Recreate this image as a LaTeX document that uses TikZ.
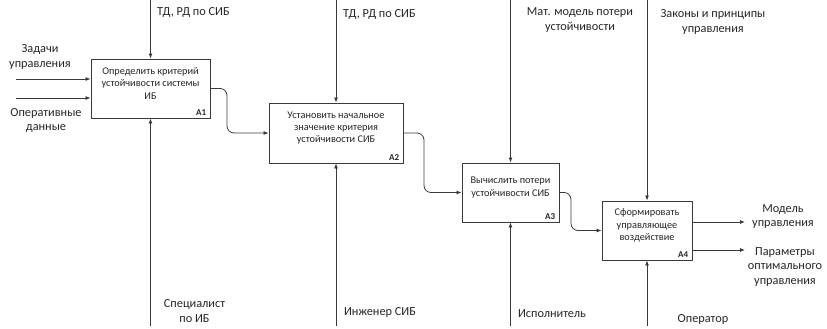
\documentclass[tikz,border=0pt]{standalone}
\usepackage{fontspec}
\setmainfont{Carlito}
\usetikzlibrary{arrows.meta}
\definecolor{ink}{HTML}{3A3A3A}
\definecolor{txt}{HTML}{262626}
\tikzset{
  func/.style={draw=ink, line width=0.9pt, fill=white, inner sep=0pt},
  ftext/.style={align=center, text=txt, font=\fontsize{10.3}{12.2}\selectfont, inner sep=0pt},
  fnum/.style={text=txt, font=\fontsize{9}{10}\selectfont, inner sep=0pt, anchor=south east},
  lbl/.style={align=center, text=txt, font=\fontsize{12.3}{14.8}\selectfont, inner sep=0pt},
  arr/.style={draw=ink, line width=0.8pt, -{Latex[length=5pt,width=4pt]}},
  flow/.style={arr, rounded corners=7pt}
}
\begin{document}
\begin{tikzpicture}[x=1pt,y=-1pt]
\useasboundingbox (0,0) rectangle (827,329);

% function boxes
\node[func, minimum width=119pt, minimum height=59pt] (A1) at (150.5,88.5) {};
\node[func, minimum width=134pt, minimum height=60pt] (A2) at (336,133) {};
\node[func, minimum width=97pt,  minimum height=59pt] (A3) at (510.5,192.5) {};
\node[func, minimum width=90pt,  minimum height=59pt] (A4) at (647,230.5) {};

\node[ftext] (A1t) at ([yshift=5pt]A1.center) {Определить критерий\\устойчивости системы\\ИБ};
\node[ftext] (A2t) at ([yshift=5pt]A2.center) {Установить начальное\\значение критерия\\устойчивости СИБ};
\node[ftext] (A3t) at ([yshift=5pt]A3.center) {Вычислить потери\\устойчивости СИБ};
\node[ftext] (A4t) at ([yshift=5pt]A4.center) {Сформировать\\управляющее\\воздействие};

\node[fnum] (A1n) at ([xshift=-4pt,yshift=3pt]A1.south east) {\bfseries A1};
\node[fnum] (A2n) at ([xshift=-4pt,yshift=3pt]A2.south east) {\bfseries A2};
\node[fnum] (A3n) at ([xshift=-4pt,yshift=3pt]A3.south east) {\bfseries A3};
\node[fnum] (A4n) at ([xshift=-4pt,yshift=3pt]A4.south east) {\bfseries A4};

% free ends of the boundary arrows
\coordinate (in1) at (16,79);
\coordinate (in2) at (16,98);
\coordinate (c1) at (150.5,0);
\coordinate (c2) at (336,0);
\coordinate (c3) at (510.5,0);
\coordinate (c4) at (647,0);
\coordinate (m1) at (150.5,326);
\coordinate (m2) at (336,326);
\coordinate (m3) at (510.5,326);
\coordinate (m4) at (647,326);
\coordinate (o1) at (745,222);
\coordinate (o2) at (745,250);

% inputs
\draw[arr] (in1) -- (in1 -| A1.west);
\draw[arr] (in2) -- (in2 -| A1.west);

% controls
\draw[arr] (c1) -- (A1.north);
\draw[arr] (c2) -- (A2.north);
\draw[arr] (c3) -- (A3.north);
\draw[arr] (c4) -- (A4.north);

% mechanisms
\draw[arr] (m1) -- (A1.south);
\draw[arr] (m2) -- (A2.south);
\draw[arr] (m3) -- (A3.south);
\draw[arr] (m4) -- (A4.south);

% links between functions
\draw[flow] (A1.east) -- (227,88.5) -- (227,133) -- (A2.west);
\draw[flow] (A2.east) -- (424,133) -- (424,192.5) -- (A3.west);
\draw[flow] (A3.east) -- (571,192.5) -- (571,230.5) -- (A4.west);

% outputs
\draw[arr] (o1 -| A4.east) -- (o1);
\draw[arr] (o2 -| A4.east) -- (o2);

% arrow labels
\node[lbl] (L1) at (40,57) {Задачи\\управления};
\node[lbl] (L2) at (46,120.5) {Оперативные\\данные};
\node[lbl, anchor=west] (L3) at (157,12) {ТД, РД по СИБ};
\node[lbl, anchor=west] (L4) at (343,14) {ТД, РД по СИБ};
\node[lbl] (L5) at (580,20) {Мат. модель потери\\устойчивости};
\node[lbl] (L6) at (713,22) {Законы и принципы\\управления};
\node[lbl] (L7) at (194.5,311) {Специалист\\по ИБ};
\node[lbl] (L8) at (380,312) {Инженер СИБ};
\node[lbl] (L9) at (552,314) {Исполнитель};
\node[lbl] (L10) at (703,319) {Оператор};
\node[lbl] (L11) at (783,216.5) {Модель\\управления};
\node[lbl] (L12) at (785,267) {Параметры\\оптимального\\управления};
\end{tikzpicture}
\end{document}
